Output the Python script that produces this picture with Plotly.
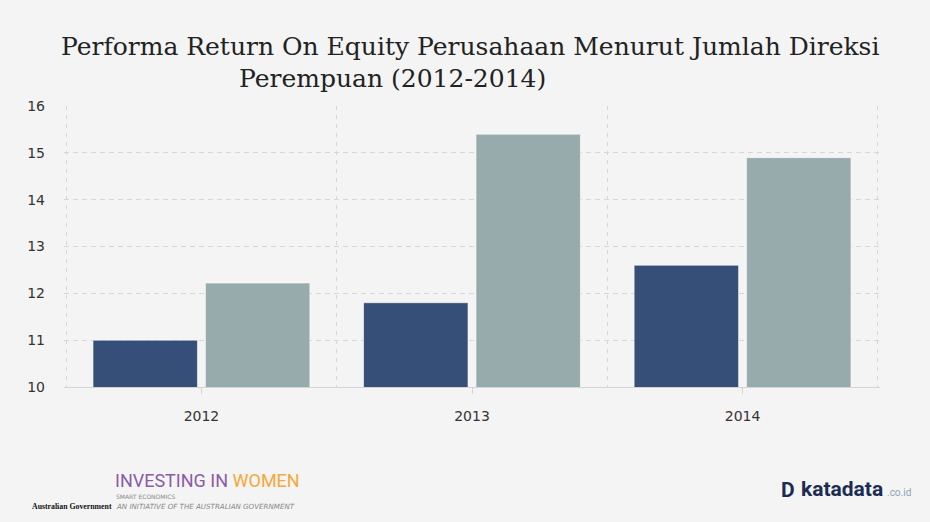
import plotly.graph_objects as go

years = ["2012", "2013", "2014"]
series_a = [11.0, 11.8, 12.6]
series_b = [12.22, 15.4, 14.9]
y_ticks = [10, 11, 12, 13, 14, 15, 16]

x_pos = list(range(len(years)))

# plot area in pixels (for placing footer/title text)
L, R, T, B = 64, 50, 106, 135
PW, PH = 930 - L - R, 522 - T - B


def px(xp):
    return (xp - L) / PW


def py(yp):
    return (522 - B - yp) / PH


fig = go.Figure()
fig.add_trace(go.Bar(x=x_pos, y=series_a,
                     marker=dict(color="#364f78", line=dict(color="rgba(255,255,255,0.55)", width=1)),
                     showlegend=False))
fig.add_trace(go.Bar(x=x_pos, y=series_b,
                     marker=dict(color="#97abad", line=dict(color="rgba(255,255,255,0.55)", width=1)),
                     showlegend=False))

grid_c = "#d6d6d6"
fig.update_layout(
    width=930, height=522,
    paper_bgcolor="#f4f4f4", plot_bgcolor="#f4f4f4",
    margin=dict(l=L, r=R, t=T, b=B),
    barmode="group", bargap=0.169, bargroupgap=0.071,
    xaxis=dict(
        range=[-0.508, 2.508], tickmode="array", tickvals=x_pos, ticktext=years,
        showgrid=False, zeroline=False,
        showline=True, linecolor="#d4d4d4", linewidth=1,
        ticks="outside", ticklen=6, tickcolor="#d4d4d4",
        ticklabelstandoff=10,
        tickfont=dict(family="DejaVu Sans", size=14, color="#333"),
        minor=dict(tickmode="array", tickvals=[-0.5, 0.5, 1.5, 2.5], showgrid=True,
                   gridcolor=grid_c, griddash="4px,5px", gridwidth=1, ticks=""),
    ),
    yaxis=dict(
        range=[10, 16.003], tickmode="array", tickvals=y_ticks,
        showgrid=True, gridcolor=grid_c, griddash="5px,4px", gridwidth=1,
        zeroline=False, showline=False,
        ticklabelstandoff=18,
        tickfont=dict(family="DejaVu Sans", size=14, color="#333"),
    ),
)

# title lines
fig.add_annotation(xref="paper", yref="paper", x=px(470), y=py(47), xanchor="center", yanchor="middle",
                   text="Performa Return On Equity Perusahaan Menurut Jumlah Direksi", showarrow=False,
                   font=dict(family="DejaVu Serif", size=25, color="#222"))
fig.add_annotation(xref="paper", yref="paper", x=px(392), y=py(78), xanchor="center", yanchor="middle",
                   text="Perempuan (2012-2014)", showarrow=False,
                   font=dict(family="DejaVu Serif", size=25, color="#222"))

# footer logos as text
fig.add_annotation(xref="paper", yref="paper", x=px(30), y=py(506), xanchor="left", yanchor="middle",
                   text="<b>Australian Government</b>", showarrow=False,
                   font=dict(family="Liberation Serif", size=7.8, color="#111"))
fig.add_annotation(xref="paper", yref="paper", x=px(114), y=py(480), xanchor="left", yanchor="middle",
                   text="<span style='color:#8b5ba8'>INVESTING IN </span><span style='color:#f5a83a'>WOMEN</span>",
                   showarrow=False, borderpad=0, font=dict(family="Roboto", size=18))
fig.add_annotation(xref="paper", yref="paper", x=px(115), y=py(496), xanchor="left", yanchor="middle",
                   text="SMART ECONOMICS", showarrow=False, borderpad=0,
                   font=dict(family="DejaVu Sans", size=6, color="#888"))
fig.add_annotation(xref="paper", yref="paper", x=px(115), y=py(506), xanchor="left", yanchor="middle",
                   text="<i>AN INITIATIVE OF THE AUSTRALIAN GOVERNMENT</i>", showarrow=False, borderpad=0,
                   font=dict(family="DejaVu Sans", size=7.1, color="#888"))
fig.add_annotation(xref="paper", yref="paper", x=px(779), y=py(490), xanchor="left", yanchor="middle",
                   text="<b>D</b>", showarrow=False,
                   font=dict(family="Roboto", size=21, color="#1c2b53"))
fig.add_annotation(xref="paper", yref="paper", x=px(799), y=py(489), xanchor="left", yanchor="middle",
                   text="<b>katadata</b>", showarrow=False,
                   font=dict(family="Roboto", size=21, color="#1c2b53"))
fig.add_annotation(xref="paper", yref="paper", x=px(885), y=py(493), xanchor="left", yanchor="middle",
                   text=".co.id", showarrow=False,
                   font=dict(family="Roboto", size=10, color="#8fa3b5"))

fig.write_html("out.html", config={"displayModeBar": False})

# remove default page margin so the figure sits at the window's top-left corner
with open("out.html", "r", encoding="utf-8") as f:
    html = f.read()
html = html.replace("<body>", "<body style=\"margin:0;padding:0;\">", 1)
with open("out.html", "w", encoding="utf-8") as f:
    f.write(html)
